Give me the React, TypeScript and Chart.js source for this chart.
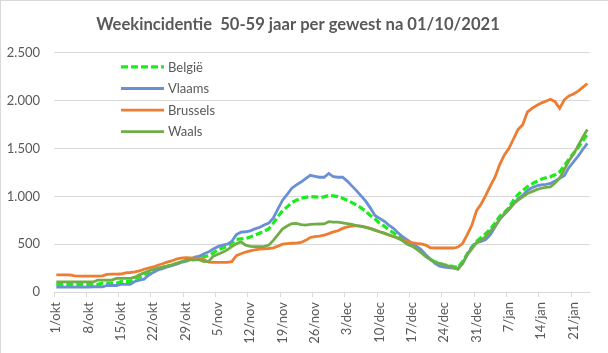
import React, { useEffect, useRef } from "react";
import { Chart, registerables } from "chart.js";

Chart.register(...registerables);

const TITLE = "Weekincidentie  50-59 jaar per gewest na 01/10/2021";

const MONTHS = ["okt", "nov", "dec", "jan"];
const MONTH_DAYS = [31, 30, 31, 31];
const N_DAYS = 116;

const CATEGORIES: string[] = [];
for (let m = 0; m < MONTHS.length; m++) {
  for (let d = 1; d <= MONTH_DAYS[m]; d++) {
    if (CATEGORIES.length < N_DAYS) CATEGORIES.push(`${d}/${MONTHS[m]}`);
  }
}

const Y_TICKS = [0, 500, 1000, 1500, 2000, 2500];

const BELGIE = [
  80, 80, 80, 80, 80, 80, 80, 80, 80, 80,
  92, 92, 92, 92, 108, 108, 108, 140, 155, 175,
  200, 220, 240, 258, 270, 282, 295, 310, 324, 332,
  342, 355, 370, 380, 410, 440, 460, 474, 510, 550,
  555, 560, 575, 595, 615, 635, 660, 720, 790, 850,
  890, 935, 960, 980, 990, 997, 995, 990, 995, 1010,
  1005, 998, 980, 960, 935, 910, 880, 845, 800, 765,
  720, 690, 650, 620, 585, 555, 520, 490, 455, 420,
  380, 340, 315, 300, 285, 275, 265, 258, 320, 400,
  470, 530, 570, 610, 660, 720, 790, 830, 880, 960,
  1020, 1060, 1100, 1130, 1155, 1180, 1195, 1205, 1225, 1255,
  1320, 1390, 1450, 1510, 1580, 1650,
];

const VLAAMS = [
  50, 50, 50, 50, 50, 50, 50, 50, 55, 55,
  55, 68, 68, 68, 80, 80, 80, 110, 125, 135,
  175, 205, 230, 245, 262, 275, 290, 310, 322, 340,
  365, 375, 400, 420, 450, 474, 490, 500, 530, 600,
  625, 630, 640, 660, 675, 700, 720, 775, 870, 960,
  1020, 1085, 1120, 1150, 1185, 1220, 1210, 1200, 1200, 1240,
  1205, 1200, 1200, 1160, 1110, 1060, 1005, 950, 880, 800,
  770, 740, 700, 666, 620, 578, 545, 510, 480, 445,
  390, 345, 300, 270, 260, 254, 250, 248, 300, 390,
  470, 515, 530, 548, 600, 680, 760, 820, 870, 920,
  975, 1010, 1060, 1090, 1110, 1120, 1125, 1135, 1160, 1190,
  1215, 1300, 1360, 1420, 1490, 1555,
];

const BRUSSELS = [
  180, 180, 180, 178, 168, 166, 166, 166, 166, 166,
  168, 185, 186, 186, 188, 200, 204, 210, 220, 238,
  250, 262, 280, 295, 312, 325, 345, 355, 358, 356,
  355, 352, 340, 312, 310, 310, 310, 310, 318, 380,
  400, 418, 430, 440, 448, 452, 455, 462, 480, 500,
  505, 510, 512, 518, 540, 570, 580, 585, 595, 610,
  628, 640, 665, 680, 690, 694, 688, 678, 665, 650,
  630, 615, 596, 580, 560, 545, 530, 516, 508, 502,
  490, 462, 460, 460, 460, 460, 460, 470, 510, 600,
  700, 850, 920, 1010, 1110, 1200, 1330, 1430, 1500, 1600,
  1700, 1750, 1880, 1920, 1950, 1975, 1995, 2015, 1990, 1920,
  2010, 2050, 2070, 2100, 2140, 2180,
];

const WAALS = [
  105, 105, 105, 105, 105, 105, 105, 105, 105, 125,
  125, 125, 125, 143, 143, 143, 143, 155, 180, 200,
  220, 235, 250, 260, 272, 285, 300, 315, 330, 335,
  335, 335, 318, 320, 375, 395, 415, 440, 475, 505,
  525, 490, 478, 474, 474, 474, 490, 540, 600, 660,
  690, 715, 718, 705, 700, 708, 710, 711, 712, 735,
  730, 730, 722, 715, 708, 695, 685, 675, 662, 645,
  630, 615, 598, 580, 565, 535, 500, 480, 450, 410,
  370, 340, 310, 300, 285, 272, 255, 237, 300, 390,
  450, 515, 545, 578, 640, 690, 760, 810, 860, 920,
  960, 995, 1030, 1050, 1070, 1085, 1095, 1100, 1140, 1190,
  1280, 1370, 1440, 1530, 1620, 1700,
];

const SERIES = [
  { label: "België", data: BELGIE, color: "#19EE19", dash: [7, 3], order: 3 },
  { label: "Vlaams", data: VLAAMS, color: "#6B8FD4", dash: [], order: 2 },
  { label: "Brussels", data: BRUSSELS, color: "#ED7D31", dash: [], order: 1 },
  { label: "Waals", data: WAALS, color: "#70AD47", dash: [], order: 0 },
];

const FONT = "Lato, 'Open Sans', sans-serif";
const TEXT = "#595959";
const GRID = "#d9d9d9";

function fmt(v: number): string {
  return String(v).replace(/\B(?=(\d{3})+(?!\d))/g, ".");
}

const legendPlugin = {
  id: "insideLegend",
  afterDraw(chart: any) {
    const { ctx, chartArea } = chart;
    const x0 = chartArea.left + 67;
    const y0 = chartArea.top + 14;
    const step = 21.6;
    ctx.save();
    ctx.font = `13px ${FONT}`;
    ctx.textBaseline = "middle";
    ctx.textAlign = "left";
    SERIES.forEach((s, i) => {
      const y = y0 + i * step;
      ctx.beginPath();
      ctx.strokeStyle = s.color;
      ctx.lineWidth = s.dash.length ? 3.2 : 2.8;
      ctx.setLineDash(s.dash);
      ctx.moveTo(x0, y);
      ctx.lineTo(x0 + 43, y);
      ctx.stroke();
      ctx.setLineDash([]);
      ctx.fillStyle = TEXT;
      ctx.fillText(s.label, x0 + 47, y + 0.5);
    });
    ctx.restore();
  },
};

export default function App() {
  const ref = useRef<HTMLCanvasElement | null>(null);

  useEffect(() => {
    if (!ref.current) return;
    const chart = new Chart(ref.current, {
      type: "line",
      data: {
        labels: CATEGORIES,
        datasets: SERIES.map((s) => ({
          label: s.label,
          data: s.data,
          borderColor: s.color,
          backgroundColor: s.color,
          borderWidth: s.dash.length ? 3.2 : 2.8,
          borderDash: s.dash,
          pointRadius: 0,
          tension: 0,
          fill: false,
          order: s.order,
        })),
      },
      options: {
        responsive: false,
        animation: false,
        layout: { padding: { left: 0, right: 13, top: 0, bottom: 0 } },
        plugins: {
          legend: { display: false },
          tooltip: { enabled: false },
          title: {
            display: true,
            text: TITLE,
            color: TEXT,
            font: { family: FONT, size: 16.6, weight: "bold" },
            padding: { top: 14, bottom: 18 },
          },
        },
        scales: {
          x: {
            offset: true,
            grid: {
              display: true,
              offset: true,
              drawOnChartArea: false,
              drawTicks: true,
              tickLength: 5,
              color: (c: any) => (c.index % 7 === 0 ? GRID : "rgba(0,0,0,0)"),
            },
            border: { display: true, color: GRID, width: 1 },
            ticks: {
              autoSkip: false,
              maxRotation: 90,
              minRotation: 90,
              padding: 5,
              color: TEXT,
              font: { family: FONT, size: 13 },
              callback: function (this: any, value: any, index: number) {
                return index % 7 === 0 ? CATEGORIES[index] : "";
              },
            },
            afterFit: (scale: any) => {
              scale.height = 61;
            },
          },
          y: {
            min: 0,
            max: 2500,
            afterBuildTicks: (scale: any) => {
              scale.ticks = Y_TICKS.map((v) => ({ value: v }));
            },
            grid: { color: GRID, drawTicks: false, lineWidth: 1 },
            border: { display: false },
            ticks: {
              padding: 14,
              color: TEXT,
              font: { family: FONT, size: 13 },
              callback: (v: any) => fmt(Number(v)),
            },
            afterFit: (scale: any) => {
              scale.width = 53;
            },
          },
        },
      },
      plugins: [legendPlugin],
    });
    return () => chart.destroy();
  }, []);

  return (
    <div
      style={{
        position: "fixed",
        left: 0,
        top: 0,
        width: 608,
        height: 353,
        background: "#ffffff",
        boxSizing: "border-box",
        borderLeft: "1px solid #d9d9d9",
        borderTop: "1px solid #d9d9d9",
      }}
    >
      <canvas ref={ref} width={607} height={352} style={{ display: "block" }} />
    </div>
  );
}
